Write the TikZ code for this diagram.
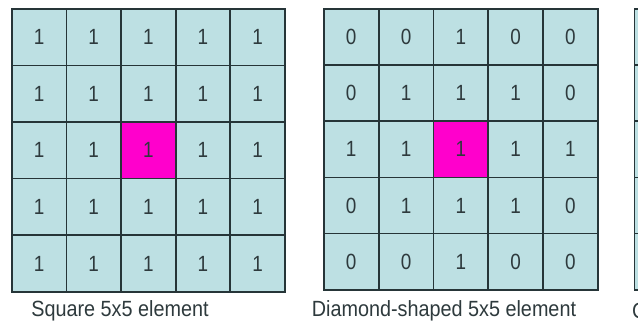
\documentclass[tikz,border=0pt]{standalone}
\usepackage{fontspec}
\setmainfont{Liberation Sans}
\definecolor{cellfill}{HTML}{BDE0E3}
\definecolor{gridline}{HTML}{263538}
\definecolor{hot}{HTML}{FF00CC}
\definecolor{txt}{HTML}{2E3A3D}
\newcommand{\narrowtext}[1]{\scalebox{0.86}[1]{#1}}
\newcommand{\captext}[1]{\scalebox{0.9}[1]{#1}}
\tikzset{
  cellA/.style={draw=gridline, fill=cellfill, line width=1.7pt,
    minimum width=54.6pt, minimum height=56.6pt, inner sep=0pt,
    anchor=north west, text=txt, font=\fontsize{22}{22}\selectfont},
  cellB/.style={cellA, minimum width=54.8pt, minimum height=56.2pt},
  hotA/.style={cellA, fill=hot},
  hotB/.style={cellB, fill=hot},
  caption/.style={text=txt, font=\fontsize{22}{22}\selectfont, inner sep=0pt}
}
\begin{document}
\begin{tikzpicture}[x=1pt,y=-1pt]
\useasboundingbox (0,0) rectangle (638,326);
\fill[white] (0,0) rectangle (638,326);
% Grid 1: square element
\foreach \r/\row in {1/{1,1,1,1,1},2/{1,1,1,1,1},3/{1,1,1,1,1},4/{1,1,1,1,1},5/{1,1,1,1,1}}{
  \foreach \v [count=\c] in \row {
    \ifnum\r=3 \ifnum\c=3 \def\sty{hotA}\else\def\sty{cellA}\fi\else\def\sty{cellA}\fi
    \node[\sty] (a-\r-\c) at ({11+(\c-1)*54.6},{8+(\r-1)*56.6}) {\narrowtext{\v}};
  }
}
\node[caption] (capA) at (120,311) {\captext{Square 5x5 element}};
% Grid 2: diamond element
\foreach \r/\row in {1/{0,0,1,0,0},2/{0,1,1,1,0},3/{1,1,1,1,1},4/{0,1,1,1,0},5/{0,0,1,0,0}}{
  \foreach \v [count=\c] in \row {
    \ifnum\r=3 \ifnum\c=3 \def\sty{hotB}\else\def\sty{cellB}\fi\else\def\sty{cellB}\fi
    \node[\sty] (b-\r-\c) at ({323+(\c-1)*54.8},{8+(\r-1)*56.2}) {\narrowtext{\v}};
  }
}
\node[caption] (capB) at (444,311) {\captext{Diamond-shaped 5x5 element}};
% Grid 3: cut off at the right edge
\foreach \r in {1,...,5}{
  \node[cellB] (c-\r-1) at (633.5,{8+(\r-1)*56.2}) {};
}
\node[caption, anchor=west] (capC) at (632,311) {\captext{C}};
\end{tikzpicture}
\end{document}
